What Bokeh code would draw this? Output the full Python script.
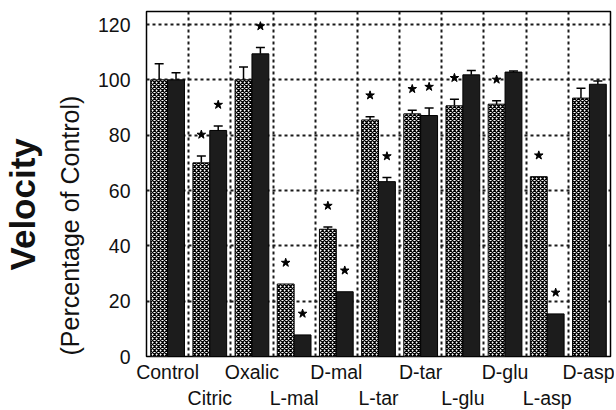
from bokeh.plotting import figure
from bokeh.models import (ColumnDataSource, FixedTicker, Range1d, Whisker,
                          TeeHead, Title)
from bokeh.transform import dodge
from bokeh.embed import file_html
from bokeh.resources import INLINE

# ---- data ----
categories = ["Control", "Citric", "Oxalic", "L-mal", "D-mal", "L-tar",
              "D-tar", "L-glu", "D-glu", "L-asp", "D-asp"]
hatched_values = [100, 70, 100, 26.2, 46, 85.5, 87.7, 90.6, 91.2, 65, 93.4]
hatched_upper = [105.8, 72.5, 104.6, 26.2, 46.8, 86.7, 89, 93, 92.4, 65, 97]
hatched_star = [0, 1, 0, 1, 1, 1, 1, 1, 1, 1, 0]
solid_values = [100, 81.7, 109.4, 7.8, 23.4, 63.2, 87.1, 101.8, 102.8, 15.4, 98.4]
solid_upper = [102.6, 83.3, 111.7, 7.8, 23.4, 64.7, 89.8, 103.4, 103.2, 15.4, 99.6]
solid_star = [0, 1, 1, 1, 1, 1, 1, 0, 0, 1, 0]
y_ticks = [0, 20, 40, 60, 80, 100, 120]
y_title = "Velocity"
y_subtitle = "(Percentage of Control)"

FONT = "Liberation Sans"
STAR_GAP = 7.7

n = len(categories)
centers = [i + 0.5 for i in range(n)]

src = ColumnDataSource(dict(x=centers, h=hatched_values, hu=hatched_upper,
                            s=solid_values, su=solid_upper))


def subset(vals, ups, flags=None, need_err=False):
    xs, v, u = [], [], []
    for i in range(n):
        if need_err and ups[i] <= vals[i]:
            continue
        if flags is not None and not flags[i]:
            continue
        xs.append(centers[i]); v.append(vals[i]); u.append(ups[i])
    return ColumnDataSource(dict(x=xs, v=v, u=u, sy=[a + STAR_GAP for a in u]))


p = figure(frame_width=464, frame_height=345,
           x_range=Range1d(0, n), y_range=Range1d(0, 124.7),
           output_backend="svg", toolbar_location=None,
           min_border_left=144, min_border_right=4, min_border_top=11,
           min_border_bottom=0)
p.background_fill_color = "white"
p.border_fill_color = "white"
p.outline_line_color = "black"
p.outline_line_width = 1.5

# grids
p.xgrid.ticker = FixedTicker(ticks=list(range(1, n)))
p.xgrid.grid_line_color = "#1a1a1a"
p.ygrid.grid_line_color = "#1a1a1a"
p.xgrid.grid_line_alpha = 1.0
p.ygrid.grid_line_alpha = 1.0
p.xgrid.grid_line_width = 2
p.ygrid.grid_line_width = 2
p.xgrid.grid_line_dash = "3 3"
p.ygrid.grid_line_dash = "3 3"

# axes
p.xaxis.ticker = FixedTicker(ticks=centers)
p.xaxis.major_label_overrides = {
    c: (name if i % 2 == 0 else "\n" + name)
    for i, (c, name) in enumerate(zip(centers, categories))}
p.yaxis.ticker = FixedTicker(ticks=y_ticks)
for ax in (p.xaxis, p.yaxis):
    ax.axis_line_color = None
    ax.major_tick_line_color = None
    ax.minor_tick_line_color = None
    ax.major_tick_out = 0
    ax.major_tick_in = 0
    ax.minor_tick_out = 0
    ax.major_label_text_font = FONT
    ax.major_label_text_font_size = "19.5px"
    ax.major_label_text_color = "#111111"
p.xaxis.major_label_standoff = 4
p.yaxis.major_label_standoff = 16

# bars
p.vbar(x=dodge("x", -0.2, range=p.x_range), top="h", width=0.4, source=src,
       fill_color="white", hatch_pattern="x", hatch_scale=4, hatch_weight=1.3,
       hatch_color="black", line_color="black", line_width=1)
p.vbar(x=dodge("x", 0.2, range=p.x_range), top="s", width=0.4, source=src,
       fill_color="#1c1c1c", line_color="black", line_width=1)

# error bars (upward only)
for off, vals, ups in ((-0.2, hatched_values, hatched_upper),
                       (0.2, solid_values, solid_upper)):
    es = subset(vals, ups, need_err=True)
    p.add_layout(Whisker(source=es, base=dodge("x", off, range=p.x_range),
                         lower="v", upper="u", dimension="height",
                         lower_head=None,
                         upper_head=TeeHead(size=9, line_width=1.5,
                                            line_color="black"),
                         line_color="black", line_width=1.5))

# significance stars
for off, vals, ups, flags in ((-0.2, hatched_values, hatched_upper, hatched_star),
                              (0.2, solid_values, solid_upper, solid_star)):
    ss = subset(vals, ups, flags=flags)
    p.scatter(x=dodge("x", off, range=p.x_range), y="sy", source=ss,
              marker="star", size=9, fill_color="black", line_color="black")

# y titles (stacked outward from the axis)
p.add_layout(Title(text=y_subtitle, align="left", offset=1, standoff=22,
                   text_font=FONT, text_font_size="25px",
                   text_font_style="normal", text_color="#111111"), "left")
p.add_layout(Title(text=y_title, align="left", offset=86, standoff=1,
                   text_font=FONT, text_font_size="35px",
                   text_font_style="bold", text_color="#111111"), "left")

open("out.html", "w").write(file_html(p, INLINE))
